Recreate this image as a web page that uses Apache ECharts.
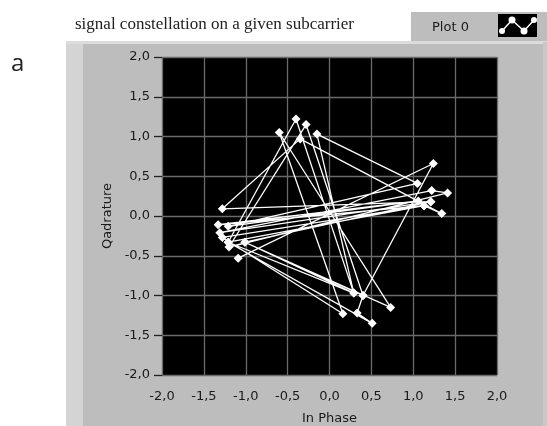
<!DOCTYPE html>
<html><head><meta charset="utf-8">
<style>html,body{margin:0;padding:0;background:#fff}#c{width:547px;height:426px}</style>
<script src="https://cdn.jsdelivr.net/npm/echarts@6/dist/echarts.min.js"></script>
</head><body><div id="c"></div>
<script>
const inPhase = [-1.09,1.24,0.40,-0.28,-1.20,1.41,1.22,-1.31,1.21,-1.28,-0.35,1.34,1.13,-1.33,1.06,-1.21,1.05,-0.15,0.29,-0.40,-1.21,0.51,0.33,0.40,-1.01,0.73,-0.60,0.16,-1.28,1.13,-1.21,0.29,-1.01,1.21];
const quadrature = [-0.53,0.66,-1.00,1.15,-0.39,0.29,0.32,-0.21,0.18,0.09,0.97,0.03,0.13,-0.11,0.19,-0.13,0.41,1.03,-0.97,1.22,-0.33,-1.35,-1.22,-1.00,-0.33,-1.15,1.05,-1.23,-0.27,0.13,-0.33,-0.97,-0.33,0.18];
const chartTitle = 'signal constellation on a given subcarrier';
const xName = 'In Phase', yName = 'Qadrature', plotName = 'Plot 0', panelLetter = 'a';
const uiFont = '"DejaVu Sans"';
const fmt = v => v.toFixed(1).replace('.', ',');
const points = inPhase.map((x,i)=>[x,quadrature[i]]);
const axisCommon = {
  type:'value', min:-2, max:2, interval:0.5,
  axisLine:{show:false,onZero:false},
  axisLabel:{color:'#1a1a1a',fontFamily:uiFont,fontSize:13,formatter:fmt,showMinLabel:true,showMaxLabel:true,hideOverlap:false},
  splitLine:{show:true,lineStyle:{color:'#6a6a6a',width:1.3}},
  nameLocation:'middle',
  nameTextStyle:{color:'#1a1a1a',fontFamily:uiFont,fontSize:13}
};
const chart = echarts.init(document.getElementById('c'),null,{renderer:'canvas'});
chart.setOption({
  animation:false,
  backgroundColor:'#ffffff',
  title:{text:chartTitle,left:70,top:11,textStyle:{fontFamily:'"Liberation Serif"',fontWeight:'normal',fontSize:17,color:'#222'}},
  grid:{left:162,right:50,top:57,bottom:51,backgroundColor:'#000',show:true,borderWidth:0,outerBoundsMode:'none'},
  xAxis:Object.assign({},axisCommon,{name:xName,nameGap:37,axisTick:{show:false},axisLabel:Object.assign({},axisCommon.axisLabel,{margin:15})}),
  yAxis:Object.assign({},axisCommon,{name:yName,nameGap:48,axisTick:{show:true,length:8,lineStyle:{color:'#222',width:1.3}},axisLabel:Object.assign({},axisCommon.axisLabel,{margin:12})}),
  series:[{type:'line',data:points,symbol:'diamond',symbolSize:9,showSymbol:true,
    lineStyle:{color:'#fff',width:1.3},itemStyle:{color:'#fff'},clip:true,z:5}],
  graphic:[
    {type:'rect',z:-10,silent:true,shape:{x:66,y:42,width:481,height:384},style:{fill:'#bdbdbd'}},
    {type:'rect',z:-9,silent:true,shape:{x:66,y:42,width:17,height:384},style:{fill:'#d4d4d4'}},
    {type:'rect',z:-9,silent:true,shape:{x:66,y:41,width:481,height:3},style:{fill:'#dcdcdc'}},
    {type:'rect',z:-9,silent:true,shape:{x:543,y:42,width:4,height:384},style:{fill:'#c8c8c8'}},
    {type:'rect',z:-10,silent:true,shape:{x:411,y:12,width:136,height:29},style:{fill:'#bdbdbd'}},
    {type:'text',z:10,style:{x:432,y:21,text:plotName,fontFamily:uiFont,fontSize:13,fill:'#1a1a1a'}},
    {type:'rect',z:10,silent:true,shape:{x:498,y:14,width:39,height:23},style:{fill:'#000'}},
    {type:'polyline',z:11,silent:true,shape:{points:[[502,31],[512,20],[524,31],[534,20]]},style:{fill:null,stroke:'#fff',lineWidth:1.5}},
    {type:'circle',z:11,silent:true,shape:{cx:502,cy:31,r:3},style:{fill:'#fff'}},
    {type:'circle',z:11,silent:true,shape:{cx:512,cy:20,r:3.5},style:{fill:'#fff'}},
    {type:'circle',z:11,silent:true,shape:{cx:524,cy:31,r:3.5},style:{fill:'#fff'}},
    {type:'circle',z:11,silent:true,shape:{cx:534,cy:20,r:3},style:{fill:'#fff'}},
    {type:'text',z:10,style:{x:11,y:52,text:panelLetter,fontFamily:'"Open Sans"',fontSize:24,fill:'#222'}}
  ]
});
</script></body></html>
